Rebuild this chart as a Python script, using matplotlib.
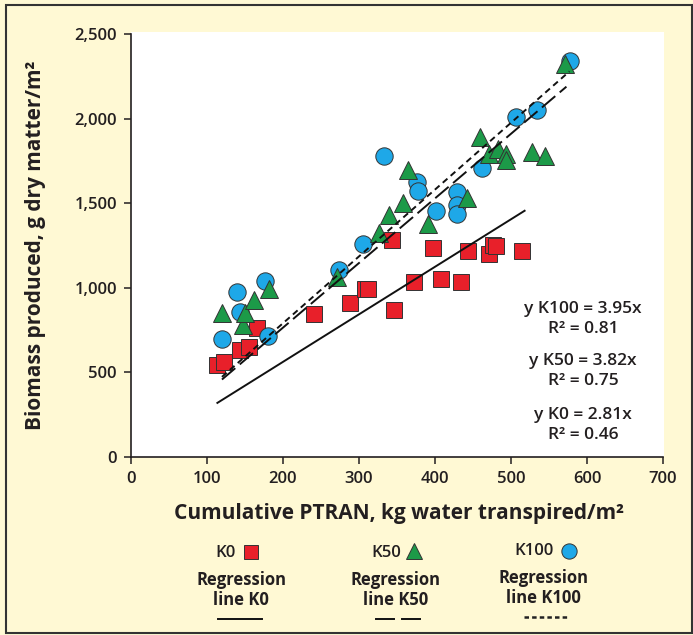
import matplotlib
matplotlib.use("Agg")
import matplotlib.pyplot as plt
from matplotlib.lines import Line2D
from matplotlib.patches import Rectangle
from matplotlib.ticker import FuncFormatter
import numpy as np

plt.rcParams['font.family'] = ['Open Sans', 'DejaVu Sans']

# ---------------- data ----------------
k0_x = [113, 123, 144, 156, 166, 241, 288, 308, 312, 343, 346, 373, 397, 408, 435, 443, 471, 476, 480, 515]
k0_y = [545, 560, 635, 650, 763, 848, 910, 995, 995, 1280, 870, 1033, 1235, 1050, 1033, 1215, 1200, 1255, 1245, 1215]

k50_x = [120, 148, 150, 162, 182, 271, 327, 340, 358, 365, 391, 442, 460, 471, 483, 493, 494, 528, 545, 571]
k50_y = [850, 780, 850, 930, 995, 1065, 1325, 1430, 1500, 1695, 1375, 1530, 1890, 1790, 1820, 1790, 1755, 1800, 1780, 2320]

k100_x = [120, 140, 144, 176, 180, 274, 305, 333, 376, 378, 402, 429, 429, 429, 462, 507, 534, 578]
k100_y = [700, 975, 855, 1040, 715, 1105, 1260, 1780, 1625, 1570, 1455, 1565, 1490, 1435, 1710, 2010, 2050, 2340]

slopes = {"K0": 2.81, "K50": 3.82, "K100": 3.95}
r2 = {"K0": 0.46, "K50": 0.75, "K100": 0.81}
line_x_range = {"K0": (114, 518), "K50": (120, 573), "K100": (120, 577)}

x_ticks = [0, 100, 200, 300, 400, 500, 600, 700]
y_ticks = [0, 500, 1000, 1500, 2000, 2500]

# ---------------- styles ----------------
BG = "#FFF9D4"
RED = "#E8202A"
GREEN = "#1C9A48"
BLUE = "#1EA8E8"
EDGE = "#333333"
TXT = "#231F20"

W, H = 693, 635
fig = plt.figure(figsize=(W / 100, H / 100), dpi=100, facecolor=BG)

def fx(px):
    return px / W

def fy(py):
    return 1 - py / H

ax_l, ax_r, ax_t, ax_b = 130.7, 663.0, 34.0, 457.1
ax = fig.add_axes([fx(ax_l), fy(ax_b), fx(ax_r - ax_l), (ax_b - ax_t) / H])
ax.set_facecolor("white")
ax.set_xlim(0, 700)
ax.set_ylim(0, 2500)

fig.patches.append(Rectangle((fx(ax_l), fy(ax_b)), fx(664 - ax_l), (ax_b - 32) / H,
                             transform=fig.transFigure, facecolor="white",
                             edgecolor="none", zorder=-1))

for s in ["top", "right"]:
    ax.spines[s].set_visible(False)
for s in ["left", "bottom"]:
    ax.spines[s].set_color(TXT)
    ax.spines[s].set_linewidth(1.2)

ax.set_xticks(x_ticks)
ax.set_yticks(y_ticks)
ax.yaxis.set_major_formatter(FuncFormatter(lambda v, p: f"{int(v):,}"))
ax.tick_params(axis="both", direction="out", length=5, width=1.1, color=TXT,
               labelsize=12, labelcolor=TXT)
ax.tick_params(axis="x", pad=5)
ax.tick_params(axis="y", pad=5)
for lab in ax.get_xticklabels() + ax.get_yticklabels():
    lab.set_fontweight("semibold")

# markers
ax.plot(k0_x, k0_y, ls="none", marker="s", ms=11.5, mfc=RED, mec=EDGE, mew=0.7,
        zorder=3, clip_on=False)
ax.plot(k100_x, k100_y, ls="none", marker="o", ms=12.5, mfc=BLUE, mec=EDGE, mew=0.7,
        zorder=3, clip_on=False)
ax.plot(k50_x, k50_y, ls="none", marker="^", ms=13, mfc=GREEN, mec=EDGE, mew=0.7,
        zorder=4, clip_on=False)

# regression lines
styles = {"K0": dict(ls="-"), "K50": dict(ls=(0, (9, 3))), "K100": dict(ls=(0, (3.2, 2.2)))}
for k in ["K0", "K50", "K100"]:
    x0, x1 = line_x_range[k]
    xs = np.array([x0, x1])
    ax.plot(xs, slopes[k] * xs, color="#111111", lw=1.4, zorder=5, **styles[k])

# equations
eq_font = dict(fontsize=12.5, color=TXT, ha="center", va="center", fontweight="semibold")
for k, py in [("K100", 309), ("K50", 361), ("K0", 415)]:
    fig.text(fx(583), fy(py), f"y {k} = {slopes[k]:.2f}x", **eq_font)
    fig.text(fx(583), fy(py + 20), f"R² = {r2[k]:.2f}", **eq_font)

# axis labels
fig.text(fx(399), fy(513), "Cumulative PTRAN, kg water transpired/m²", fontsize=15,
         fontweight="bold", color=TXT, ha="center", va="center")
fig.text(fx(36), fy(245), "Biomass produced, g dry matter/m²", fontsize=15,
         fontweight="bold", color=TXT, ha="center", va="center", rotation=90)

# legend below
lg_font = dict(fontsize=12, color=TXT, va="center", fontweight="semibold")
lb_font = dict(fontsize=12, color=TXT, va="center", ha="center", fontweight="bold")

fig.text(fx(236), fy(553), "K0", ha="right", **lg_font)
fig.add_artist(Line2D([fx(251)], [fy(552)], marker="s", ms=10, mfc=RED, mec=EDGE,
                      mew=0.7, transform=fig.transFigure))
fig.text(fx(241), fy(580), "Regression", **lb_font)
fig.text(fx(241), fy(600), "line K0", **lb_font)
fig.add_artist(Line2D([fx(218), fx(262)], [fy(619), fy(619)], color="#111111", lw=1.4,
                      transform=fig.transFigure))

fig.text(fx(401), fy(553), "K50", ha="right", **lg_font)
fig.add_artist(Line2D([fx(414)], [fy(551)], marker="^", ms=12, mfc=GREEN, mec=EDGE,
                      mew=0.7, transform=fig.transFigure))
fig.text(fx(396), fy(580), "Regression", **lb_font)
fig.text(fx(396), fy(600), "line K50", **lb_font)
fig.add_artist(Line2D([fx(376), fx(394)], [fy(619), fy(619)], color="#111111", lw=1.4,
                      transform=fig.transFigure))
fig.add_artist(Line2D([fx(402), fx(420)], [fy(619), fy(619)], color="#111111", lw=1.4,
                      transform=fig.transFigure))

fig.text(fx(554), fy(551), "K100", ha="right", **lg_font)
fig.add_artist(Line2D([fx(569)], [fy(551)], marker="o", ms=11, mfc=BLUE, mec=EDGE,
                      mew=0.7, transform=fig.transFigure))
fig.text(fx(543), fy(578), "Regression", **lb_font)
fig.text(fx(543), fy(598), "line K100", **lb_font)
fig.add_artist(Line2D([fx(524), fx(568)], [fy(617), fy(617)], color="#222222", lw=1.8,
                      ls=(0, (1.8, 1.25)), dash_capstyle="butt", transform=fig.transFigure))

# figure border
fig.patches.append(Rectangle((fx(6), fy(633)), fx(686), (633 - 5) / H,
                             transform=fig.transFigure, facecolor="none",
                             edgecolor="#333333", lw=1.5, zorder=10))

fig.savefig("out.png", dpi=100, facecolor=BG)
